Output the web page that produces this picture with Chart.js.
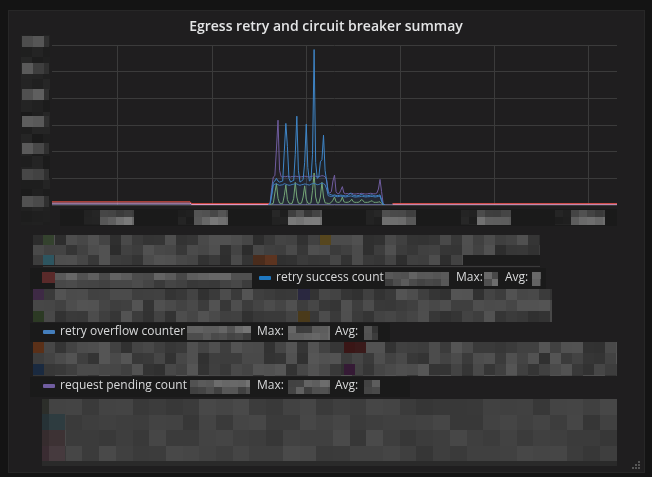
<!DOCTYPE html>
<html>
<head>
<meta charset="utf-8">
<script src="https://cdn.jsdelivr.net/npm/chart.js@4"></script>
<style>
  html, body { margin: 0; padding: 0; background: #141414; }
  body { width: 652px; height: 477px; position: relative; overflow: hidden; font-family: "Open Sans", sans-serif; }
  #panel { position: absolute; left: 8px; top: 10px; width: 637px; height: 463px; background: #1f1e1f; border: 1px solid #272727; box-sizing: border-box; }
  #mosaic { position: absolute; left: 0; top: 0; }
  #chartBox { position: absolute; left: 0; top: 0; width: 652px; height: 230px; }
  #title { position: absolute; left: 0; top: 16px; width: 652px; text-align: center; color: #e4e5e6; font: 600 14px "Open Sans", sans-serif; }
  .lg { position: absolute; color: #d8d9da; font: 12px "Open Sans", sans-serif; white-space: nowrap; line-height: 16px; }
  .sw { position: absolute; width: 12px; height: 4px; border-radius: 1px; }
</style>
</head>
<body>
<div id="panel"></div>
<canvas id="mosaic" width="652" height="477"></canvas>
<div id="title">Egress retry and circuit breaker summay</div>
<div id="chartBox"><canvas id="chart"></canvas></div>
<div id="legend"></div>
<script>
// x axis in minutes over the panel's time range, grid every hour
const xTickMinutes = [42, 102, 162, 222, 282, 342];
const yTickValues = [0, 1, 2, 3, 4, 5, 6];

// burst window, one sample per minute
const burstMinutes = [
  138, 139, 140, 141, 142, 143, 144, 145, 146, 147, 148, 149, 150, 151, 152,
  153, 154, 155, 156, 157, 158, 159, 160, 161, 162, 163, 164, 165, 166, 167,
  168, 169, 170, 171, 172, 173, 174, 175, 176, 177, 178, 179, 180, 181, 182,
  183, 184, 185, 186, 187, 188, 189, 190, 191, 192, 193, 194, 195, 196, 197,
  198, 199, 200, 201, 202, 203, 204, 205, 206, 207, 208, 209, 210, 211, 212
];
const retrySuccess = [
  0, 0.05, 0.45, 0.85, 0.9, 1.0, 0.9, 0.86, 0.88, 0.9, 2.0, 3.06, 2.2, 1.0, 0.86,
  0.9, 0.92, 1.9, 3.33, 1.3, 0.86, 0.9, 0.95, 1.6, 3.03, 1.4, 0.9, 0.95, 1.9, 5.83,
  1.6, 1.0, 1.05, 1.62, 1.7, 2.62, 1.3, 0.9, 0.45, 0.4, 0.38, 0.36, 0.38, 0.36, 0.35,
  0.36, 0.37, 0.36, 0.35, 0.34, 0.35, 0.38, 0.45, 0.4, 0.36, 0.35, 0.34, 0.35, 0.36, 0.4,
  0.38, 0.35, 0.34, 0.35, 0.36, 0.37, 0.38, 0.35, 0.34, 0.35, 0.36, 0.38, 0.2, 0.02, 0
];
const retryOverflow = [
  0, 0.05, 0.35, 0.75, 0.78, 0.8, 0.76, 0.74, 0.75, 0.76, 0.8, 0.78, 0.76, 0.74, 0.75,
  0.77, 0.78, 0.8, 0.79, 0.76, 0.74, 0.76, 0.77, 0.79, 0.78, 0.76, 0.75, 0.78, 0.8, 0.82,
  0.79, 0.76, 0.77, 0.8, 0.82, 0.8, 0.76, 0.6, 0.35, 0.33, 0.32, 0.33, 0.34, 0.32, 0.31,
  0.32, 0.33, 0.32, 0.31, 0.3, 0.31, 0.32, 0.34, 0.33, 0.31, 0.3, 0.3, 0.31, 0.31, 0.33,
  0.32, 0.31, 0.3, 0.31, 0.31, 0.32, 0.32, 0.31, 0.3, 0.31, 0.32, 0.33, 0.15, 0.02, 0
];
const pendingCount = [
  0, 0.1, 0.65, 1.05, 1.1, 2.1, 3.18, 1.3, 1.06, 1.05, 1.07, 1.06, 1.08, 1.06, 1.05,
  1.07, 1.06, 1.08, 1.07, 1.06, 1.05, 1.06, 1.07, 1.08, 1.07, 1.06, 1.05, 1.07, 1.08, 1.1,
  1.08, 1.06, 1.07, 1.08, 1.1, 1.09, 1.06, 0.95, 0.5, 0.45, 0.5, 0.9, 1.12, 0.5, 0.42,
  0.43, 0.55, 0.69, 0.45, 0.42, 0.43, 0.42, 0.43, 0.44, 0.42, 0.41, 0.42, 0.43, 0.42, 0.44,
  0.43, 0.42, 0.41, 0.42, 0.43, 0.44, 0.43, 0.42, 0.42, 0.45, 0.6, 0.96, 0.5, 0.05, 0
];
const retryCount = [
  0, 0, 0.04, 0.06, 0.45, 0.8, 0.25, 0.07, 0.06, 0.06, 0.35, 0.75, 0.2, 0.07, 0.06,
  0.06, 0.25, 0.85, 0.3, 0.07, 0.06, 0.07, 0.3, 0.72, 0.22, 0.07, 0.06, 0.08, 0.55, 1.2,
  0.3, 0.07, 0.07, 0.3, 0.85, 0.3, 0.08, 0.07, 0.06, 0.06, 0.1, 0.18, 0.3, 0.12, 0.1,
  0.1, 0.15, 0.3, 0.12, 0.1, 0.1, 0.11, 0.14, 0.22, 0.12, 0.1, 0.1, 0.1, 0.12, 0.2,
  0.18, 0.1, 0.1, 0.1, 0.11, 0.14, 0.16, 0.1, 0.1, 0.1, 0.11, 0.12, 0.06, 0, 0
];

// low steady series along the bottom
const baseMinutes = [0, 88, 89, 139, 140, 217, 360];
const openCircuits = [0.12, 0.12, 0.05, 0.05, null, 0.05, 0.05];
const pendingOverflow = [0.07, 0.07, 0.02, 0.02, null, 0.03, 0.03];
const ejections = [0, 0, 0, 0, 0, 0, 0];

const seriesNames = ['retry success count', 'retry overflow counter', 'request pending count'];
const seriesColors = ['#1F78C1', '#447EBC', '#705DA0', '#7EB26D', '#E24D42', '#E5A8E2', '#AEA2E0'];

function points(xs, ys) {
  return xs.map((x, i) => ({ x: x, y: ys[i] }));
}

// pixelated (blurred) areas of the screenshot
function cellShade(i, j, seed) {
  const v = Math.sin(i * 12.9898 + j * 78.233 + seed * 4.1414) * 43758.5453;
  return v - Math.floor(v);
}
function grey(n) {
  n = Math.round(n);
  return 'rgb(' + n + ',' + n + ',' + n + ')';
}
function mosaic(ctx, x0, y0, w, h, cw, ch, lo, hi, seed) {
  const cols = Math.ceil(w / cw), rows = Math.ceil(h / ch);
  for (let r = 0; r < rows; r++) {
    for (let c = 0; c < cols; c++) {
      const x1 = Math.round(x0 + c * cw), x2 = Math.round(Math.min(x0 + (c + 1) * cw, x0 + w));
      const y1 = Math.round(y0 + r * ch), y2 = Math.round(Math.min(y0 + (r + 1) * ch, y0 + h));
      ctx.fillStyle = grey(lo + (hi - lo) * cellShade(c, r, seed));
      ctx.fillRect(x1, y1, x2 - x1, y2 - y1);
    }
  }
}
function cell(ctx, x, y, w, h, color) {
  ctx.fillStyle = color;
  ctx.fillRect(x, y, w, h);
}

const mctx = document.getElementById('mosaic').getContext('2d');
// row bands behind legend lines
cell(mctx, 30, 268, 516, 22, '#1a1a1a');
cell(mctx, 30, 323, 360, 19, '#1a1a1a');
cell(mctx, 30, 377, 380, 20, '#1a1a1a');
// block A
mosaic(mctx, 33, 235, 507, 30, 11, 10, 44, 82, 1);
cell(mctx, 463, 255, 77, 10, '#1c1c1c');
cell(mctx, 43, 235, 11, 10, '#34422e');
cell(mctx, 43, 255, 11, 10, '#2d5560');
cell(mctx, 320, 235, 11, 10, '#56461e');
cell(mctx, 253, 255, 12, 10, '#4a2c1c');
cell(mctx, 265, 255, 12, 10, '#5c3420');
cell(mctx, 43, 266, 497, 1, '#3a3a3a');
// block B
mosaic(mctx, 55, 273, 197, 7, 11, 7, 70, 105, 2);
mosaic(mctx, 55, 280, 197, 8, 11, 8, 55, 78, 3);
cell(mctx, 42, 272, 13, 11, '#5a2a2a');
// block C
mosaic(mctx, 33, 289, 519, 33, 11, 11, 48, 84, 4);
cell(mctx, 33, 289, 11, 11, '#3e2a45');
cell(mctx, 33, 311, 11, 11, '#2c3a24');
cell(mctx, 298, 289, 12, 11, '#2a2840');
cell(mctx, 298, 311, 12, 11, '#4a3a1a');
// block D
mosaic(mctx, 33, 342, 584, 34, 11, 11, 48, 86, 5);
cell(mctx, 33, 342, 11, 11, '#5a3018');
cell(mctx, 33, 364, 11, 11, '#1a2a40');
cell(mctx, 344, 342, 11, 11, '#3a1616');
cell(mctx, 355, 342, 11, 11, '#3a1a1a');
cell(mctx, 344, 364, 11, 11, '#351a35');
// block E
mosaic(mctx, 49, 399, 568, 62, 16.7, 15.5, 54, 74, 6);
cell(mctx, 42, 399, 7, 62, '#2c2e2a');
cell(mctx, 42, 414, 7, 16, '#263236');
cell(mctx, 42, 430, 7, 16, '#362c2e');
cell(mctx, 42, 446, 7, 15, '#3a2c32');
cell(mctx, 49, 414, 16, 16, '#2e3c40');
cell(mctx, 49, 430, 16, 16, '#3d3234');
cell(mctx, 49, 446, 16, 15, '#463a3e');
cell(mctx, 42, 461, 575, 5, '#2a2a2a');
// resize handle
[[638, 461], [635, 464], [638, 464], [632, 467], [635, 467], [638, 467]].forEach(p => cell(mctx, p[0], p[1], 2, 2, '#555'));

// readable legend entries
const legendRows = [
  { s: 0, sw: 259, x: 276, y: 278, v: [385, 64], max: 456, mv: [484, 14], avg: 505, av: [532, 9] },
  { s: 1, sw: 43, x: 60, y: 332, v: [187, 64], max: 257, mv: [288, 42], avg: 335, av: [364, 14] },
  { s: 2, sw: 43, x: 60, y: 386, v: [190, 60], max: 257, mv: [288, 42], avg: 335, av: [364, 16] }
];
const legendEl = document.getElementById('legend');
legendRows.forEach((row, k) => {
  const sw = document.createElement('div');
  sw.className = 'sw';
  sw.style.left = row.sw + 'px';
  sw.style.top = (row.y - 2) + 'px';
  sw.style.background = seriesColors[row.s];
  legendEl.appendChild(sw);
  [[row.x, seriesNames[row.s]], [row.max, 'Max:'], [row.avg, 'Avg:']].forEach(t => {
    const d = document.createElement('div');
    d.className = 'lg';
    d.style.left = t[0] + 'px';
    d.style.top = (row.y - 9) + 'px';
    d.textContent = t[1];
    legendEl.appendChild(d);
  });
  mosaic(mctx, row.v[0], row.y - 6, row.v[1], 7, 8, 7, 80, 120, 10 + k);
  mosaic(mctx, row.v[0], row.y + 1, row.v[1], 7, 8, 7, 60, 92, 20 + k);
  mosaic(mctx, row.mv[0], row.y - 6, row.mv[1], 14, 8, 7, 60, 110, 30 + k);
  mosaic(mctx, row.av[0], row.y - 6, row.av[1], 14, 8, 7, 50, 105, 40 + k);
});

// blurred tick labels drawn at the scale's tick positions
const axisMosaic = {
  id: 'axisMosaic',
  beforeDraw(chart) {
    const ctx = chart.ctx;
    const xs = chart.scales.x, ys = chart.scales.y;
    ctx.save();
    cell(ctx, 60, 209, 557, 17, '#1a1a1a');
    mosaic(ctx, 21, 35, 29, 190, 11, 11, 26, 38, 50);
    yTickValues.forEach((v, i) => {
      const py = Math.round(ys.getPixelForValue(v));
      mosaic(ctx, 22, py - 9, 22, 11, 11, 11, 62, 96, 60 + i);
      cell(ctx, 44, py - 9, 5, 11, '#303030');
    });
    xTickMinutes.forEach((m, i) => {
      const px = Math.round(xs.getPixelForValue(m));
      mosaic(ctx, px - 34, 210, 16, 15, 8, 7, 28, 40, 70 + i);
      mosaic(ctx, px - 18, 210, 34, 7, 8, 7, 55, 85, 80 + i);
      mosaic(ctx, px - 18, 217, 34, 8, 8, 8, 85, 125, 90 + i);
    });
    ctx.restore();
  }
};

function line(label, xs, ys, color, fillColor) {
  return {
    label: label,
    data: points(xs, ys),
    borderColor: color,
    backgroundColor: fillColor || color,
    fill: fillColor ? 'origin' : false,
    borderWidth: 1,
    pointRadius: 0,
    tension: 0,
    spanGaps: false
  };
}

new Chart(document.getElementById('chart'), {
  type: 'line',
  data: {
    datasets: [
      line(seriesNames[0], burstMinutes, retrySuccess, '#3f86c8', 'rgba(31,120,193,0.06)'),
      line(seriesNames[1], burstMinutes, retryOverflow, seriesColors[1], 'rgba(68,126,188,0.05)'),
      line(seriesNames[2], burstMinutes, pendingCount, seriesColors[2], 'rgba(112,93,160,0.06)'),
      line('retry count', burstMinutes, retryCount, seriesColors[3]),
      line('open circuits', baseMinutes, openCircuits, seriesColors[4]),
      line('pending overflow', baseMinutes, pendingOverflow, seriesColors[5]),
      line('ejections', baseMinutes, ejections, seriesColors[6])
    ]
  },
  options: {
    responsive: true,
    maintainAspectRatio: false,
    animation: false,
    events: [],
    layout: { padding: { left: 52, right: 35, top: 45, bottom: 25 } },
    plugins: { legend: { display: false }, tooltip: { enabled: false } },
    scales: {
      x: {
        type: 'linear',
        min: 0,
        max: 360,
        afterBuildTicks: axis => { axis.ticks = xTickMinutes.map(v => ({ value: v })); },
        ticks: { display: false },
        grid: { color: '#3b3b3b', drawTicks: false },
        border: { display: false }
      },
      y: {
        min: 0,
        max: 6,
        afterBuildTicks: axis => { axis.ticks = yTickValues.map(v => ({ value: v })); },
        ticks: { display: false },
        grid: { color: '#3b3b3b', drawTicks: false },
        border: { display: false }
      }
    }
  },
  plugins: [axisMosaic]
});
</script>
</body>
</html>
